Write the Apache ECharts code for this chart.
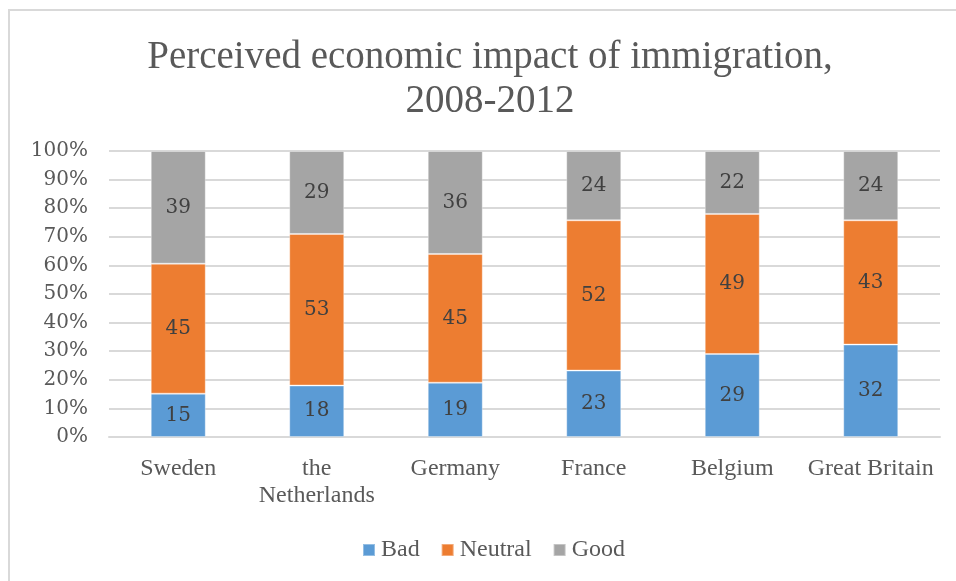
<!DOCTYPE html>
<html>
<head>
<meta charset="utf-8">
<script src="https://cdn.jsdelivr.net/npm/echarts@6/dist/echarts.min.js"></script>
<style>
html,body{margin:0;padding:0;background:#fff;}
#frame{position:absolute;left:8px;top:9px;width:960px;height:590px;border-left:2px solid #d9d9d9;border-top:2px solid #d9d9d9;box-sizing:border-box;}
#chart{position:absolute;left:0;top:0;width:956px;height:581px;}
</style>
</head>
<body>
<div id="frame"></div>
<div id="chart"></div>
<script>
var categories = ['Sweden', 'the\nNetherlands', 'Germany', 'France', 'Belgium', 'Great Britain'];
var bad = [15, 18, 19, 23, 29, 32];
var neutral = [45, 53, 45, 52, 49, 43];
var good = [39, 29, 36, 24, 22, 24];
var yTicks = [0, 10, 20, 30, 40, 50, 60, 70, 80, 90, 100];

var totals = categories.map(function (c, i) { return bad[i] + neutral[i] + good[i]; });
function toPct(arr) {
  return arr.map(function (v, i) { return { value: v / totals[i] * 100, raw: v }; });
}

var chart = echarts.init(document.getElementById('chart'), null, { renderer: 'canvas' });
var serif = "'Liberation Serif', serif";
var labelFont = "'DejaVu Serif', serif";

function mkSeries(name, arr, color) {
  return {
    name: name,
    type: 'bar',
    stack: 'total',
    barWidth: 55,
    data: toPct(arr),
    itemStyle: { color: color, borderColor: 'rgba(255,255,255,0.35)', borderWidth: 1 },
    label: {
      show: true,
      position: 'inside',
      fontFamily: labelFont,
      fontSize: 20,
      color: '#404040',
      formatter: function (p) { return p.data.raw; }
    }
  };
}

chart.setOption({
  animation: false,
  backgroundColor: 'transparent',
  title: {
    text: 'Perceived economic impact of immigration,\n2008-2012',
    left: 490,
    textAlign: 'center',
    top: 31,
    padding: [5, 0, 5, 0],
    textStyle: {
      fontFamily: serif,
      fontSize: 39,
      fontWeight: 'normal',
      color: '#595959',
      lineHeight: 44
    }
  },
  legend: {
    data: ['Bad', 'Neutral', 'Good'],
    bottom: 14,
    left: 362,
    padding: [5, 0, 5, 0],
    icon: 'rect',
    itemWidth: 12,
    itemHeight: 12,
    itemGap: 21,
    textStyle: { fontFamily: serif, fontSize: 24, color: '#595959', padding: [0, 0, 0, 1] }
  },
  grid: { left: 109, right: 16, top: 151, bottom: 144, containLabel: false },
  xAxis: {
    type: 'category',
    data: categories,
    axisTick: { show: false },
    axisLine: { lineStyle: { color: '#d9d9d9', width: 2 } },
    axisLabel: {
      fontFamily: serif,
      fontSize: 24,
      color: '#595959',
      lineHeight: 27,
      margin: 18,
      interval: 0
    }
  },
  yAxis: {
    type: 'value',
    min: yTicks[0],
    max: yTicks[yTicks.length - 1],
    interval: 10,
    axisLine: { show: false },
    axisTick: { show: false },
    splitLine: { lineStyle: { color: '#d9d9d9', width: 2 } },
    axisLabel: {
      fontFamily: labelFont,
      fontSize: 20,
      color: '#595959',
      margin: 21,
      formatter: '{value}%'
    }
  },
  series: [
    mkSeries('Bad', bad, '#5B9BD5'),
    mkSeries('Neutral', neutral, '#ED7D31'),
    mkSeries('Good', good, '#A5A5A5')
  ]
});
</script>
</body>
</html>
